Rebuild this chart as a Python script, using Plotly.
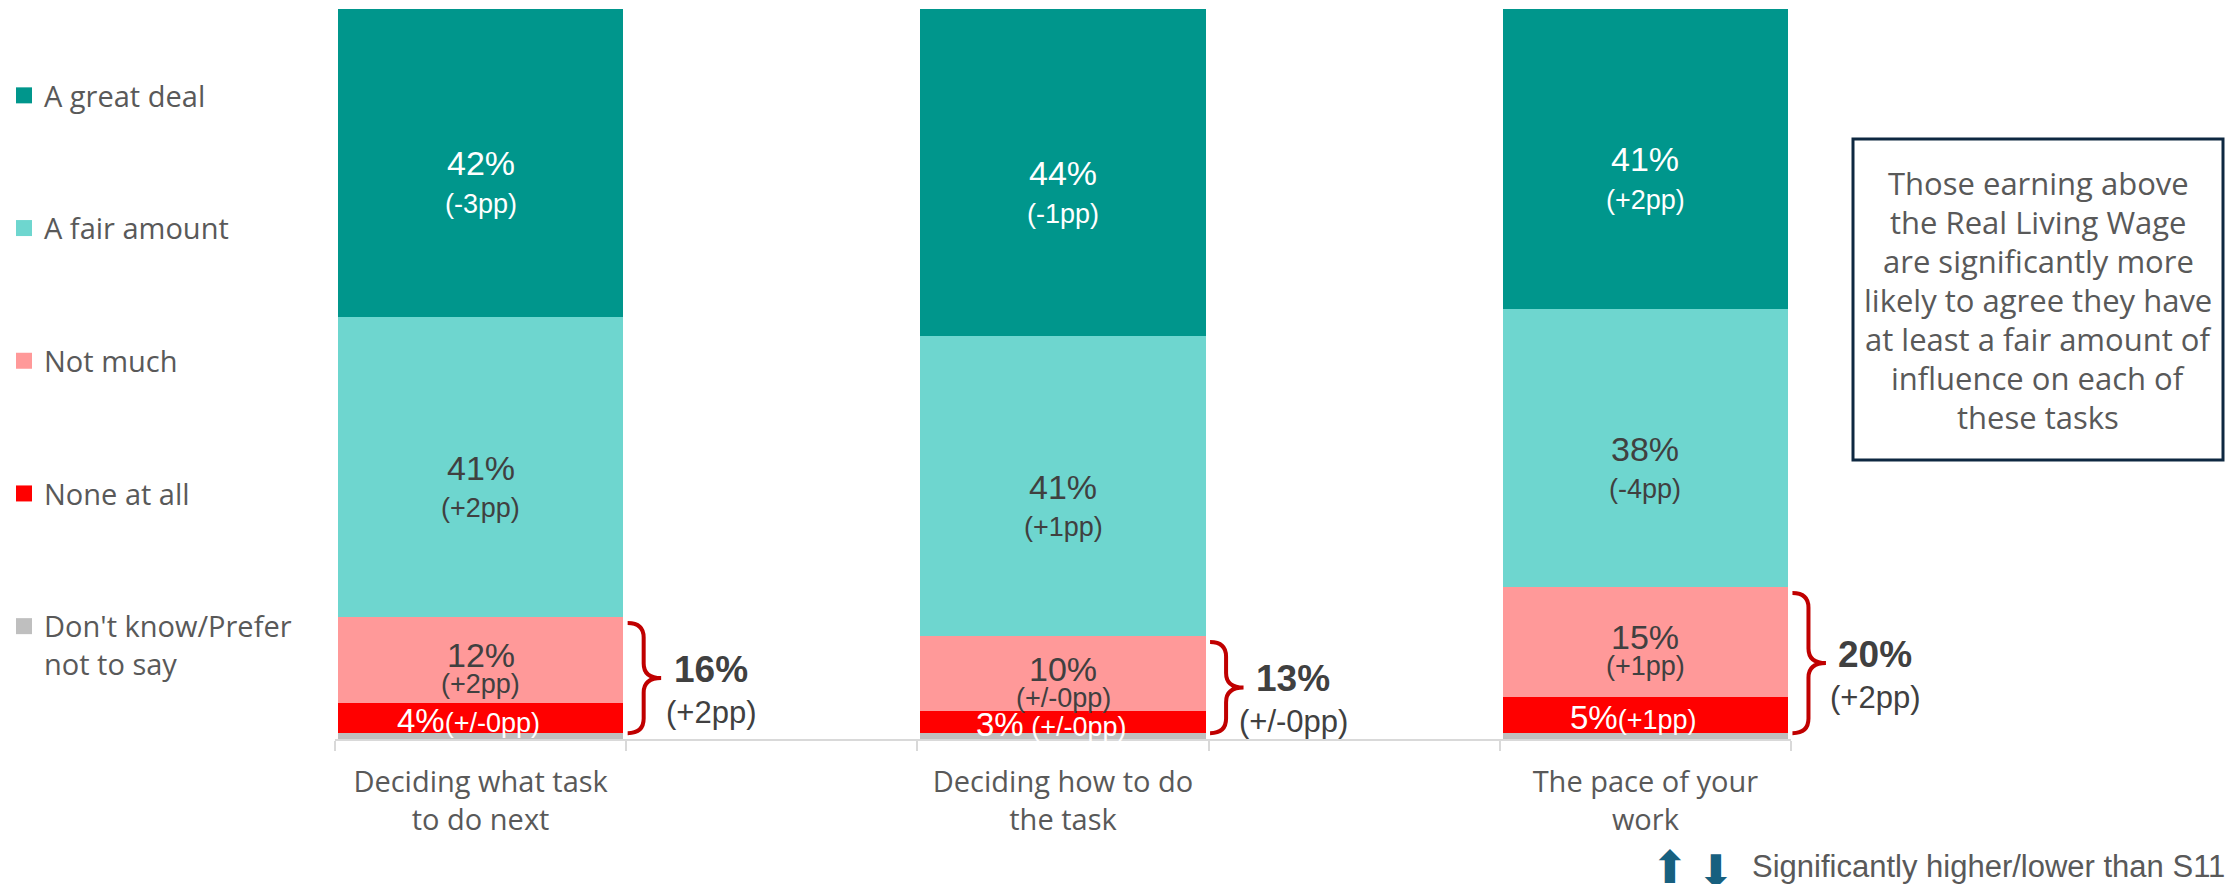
import plotly.graph_objects as go

# ---------------- data ----------------
categories = ["Deciding what task<br>to do next", "gap_a",
              "Deciding how to do<br>the task", "gap_b",
              "The pace of your<br>work"]
category_text = ["Deciding what task<br>to do next", "",
                 "Deciding how to do<br>the task", "",
                 "The pace of your<br>work"]
bar_categories = [categories[0], categories[2], categories[4]]

series_names = ["Don't know/Prefer<br>not to say", "None at all", "Not much",
                "A fair amount", "A great deal"]
dont_know = [0.8, 0.8, 0.8]
none_at_all = [4.1, 3.0, 4.9]
not_much = [11.8, 10.3, 15.1]
fair_amount = [41.1, 41.1, 38.1]
great_deal = [42.2, 44.8, 41.1]

none_lbl = ["4%", "3%", "5%"]
none_pp = ["(+/-0pp)", " (+/-0pp)", "(+1pp)"]
nm_lbl = ["12%", "10%", "15%"]
nm_pp = ["(+2pp)", "(+/-0pp)", "(+1pp)"]
fair_lbl = ["41%", "41%", "38%"]
fair_pp = ["(+2pp)", "(+1pp)", "(-4pp)"]
great_lbl = ["42%", "44%", "41%"]
great_pp = ["(-3pp)", "(-1pp)", "(+2pp)"]
net_lbl = ["16%", "13%", "20%"]
net_pp = ["(+2pp)", "(+/-0pp)", "(+2pp)"]

box_lines = ["Those earning above", "the Real Living Wage",
             "are significantly more", "likely to agree they have",
             "at least a fair amount of", "influence on each of",
             "these tasks"]
footnote = "Significantly higher/lower than S11"

# ---------------- styles ----------------
colors = ["#BFBFBF", "#FF0000", "#FF9999", "#6ED6CF", "#00968C"]
W_PX, H_PX = 2230, 884
L, T, B = 335, 9, 145
X_RANGE = [-0.5, len(categories) - 0.5]
CAT_PX = 291.2
PW = CAT_PX * len(categories)
R = W_PX - L - PW
PH = H_PX - T - B
ARIAL = "Liberation Sans, Arial, sans-serif"
APTOS = "Open Sans, sans-serif"
DARK = "#404040"
GREY_TXT = "#595959"


def px_x(px):
    return (px - L) / PW


def px_y(py):
    return (H_PX - B - py) / PH


def cat2paper(c):
    return (c - X_RANGE[0]) / (X_RANGE[1] - X_RANGE[0])


fig = go.Figure()
series = [dont_know, none_at_all, not_much, fair_amount, great_deal]
n_series = len(series)
for k, (name, vals, col) in enumerate(zip(series_names, series, colors)):
    fig.add_trace(go.Bar(
        x=bar_categories, y=vals, name=name, legendgroup=name, showlegend=False,
        marker=dict(color=col, line=dict(width=0)),
        hoverinfo="skip",
    ))
    # legend entry (larger square swatch) tied to the bar series
    fig.add_trace(go.Scatter(
        x=[None], y=[None], mode="markers", name=name, legendgroup=name,
        legendrank=n_series - k,
        marker=dict(symbol="square", size=16, color=col, line=dict(width=0)),
        hoverinfo="skip",
    ))

annotations = []
shapes = []

bar_idx = [categories.index(c) for c in bar_categories]
for i, xi in enumerate(bar_idx):
    base = 0.0
    segs = []
    for vals in series:
        segs.append((base, base + vals[i]))
        base += vals[i]
    # great deal
    g0, g1 = segs[4]
    gm = (g0 + g1) / 2
    annotations.append(dict(x=xi, y=gm, xref="x", yref="y", text=great_lbl[i], showarrow=False,
                            yshift=0, font=dict(family=ARIAL, size=34, color="white")))
    annotations.append(dict(x=xi, y=gm, xref="x", yref="y", text=great_pp[i], showarrow=False,
                            yshift=-41, font=dict(family=ARIAL, size=27, color="white")))
    # fair amount
    f0, f1 = segs[3]
    fm = (f0 + f1) / 2
    annotations.append(dict(x=xi, y=fm, xref="x", yref="y", text=fair_lbl[i], showarrow=False,
                            yshift=-1, font=dict(family=ARIAL, size=34, color=DARK)))
    annotations.append(dict(x=xi, y=fm, xref="x", yref="y", text=fair_pp[i], showarrow=False,
                            yshift=-41, font=dict(family=ARIAL, size=27, color=DARK)))
    # not much
    n0, n1 = segs[2]
    nm = (n0 + n1) / 2
    annotations.append(dict(x=xi, y=nm, xref="x", yref="y", text=nm_lbl[i], showarrow=False,
                            yshift=5, font=dict(family=ARIAL, size=34, color=DARK)))
    annotations.append(dict(x=xi, y=nm, xref="x", yref="y", text=nm_pp[i], showarrow=False,
                            yshift=-24, font=dict(family=ARIAL, size=27, color=DARK)))
    # none at all
    z0, z1 = segs[1]
    zm = (z0 + z1) / 2
    annotations.append(dict(x=xi, y=zm, xref="x", yref="y",
                            text=none_lbl[i] + "<span style='font-size:27px'>" + none_pp[i] + "</span>",
                            showarrow=False, xshift=-12, yshift=-2,
                            font=dict(family=ARIAL, size=33, color="white")))
    # brace around not much + none at all (x in paper units derived from the category scale)
    yb = segs[1][0]
    yt = segs[2][1] - 0.8
    ymid = (yb + yt) / 2
    x0 = cat2paper(xi + 0.505)
    xm = cat2paper(xi + 0.56)
    x1 = cat2paper(xi + 0.62)
    r = 2.0
    path = (f"M {x0},{yt} Q {xm},{yt} {xm},{yt - r} L {xm},{ymid + r} "
            f"Q {xm},{ymid} {x1},{ymid} Q {xm},{ymid} {xm},{ymid - r} "
            f"L {xm},{yb + r} Q {xm},{yb} {x0},{yb}")
    shapes.append(dict(type="path", path=path, xref="paper", yref="y",
                       line=dict(color="#C00000", width=4)))
    # net labels (x in paper units so the last one may sit right of the axis)
    xn = cat2paper(xi + 0.79)
    annotations.append(dict(x=xn, y=ymid, xref="paper", yref="y", text="<b>" + net_lbl[i] + "</b>",
                            showarrow=False, yshift=9, xanchor="center",
                            font=dict(family=ARIAL, size=37, color=DARK)))
    annotations.append(dict(x=xn, y=ymid, xref="paper", yref="y", text=net_pp[i],
                            showarrow=False, yshift=-34, xanchor="center",
                            font=dict(family=ARIAL, size=31, color=DARK)))

# text box
shapes.append(dict(type="rect", xref="paper", yref="paper",
                   x0=px_x(1853), x1=px_x(2223), y0=px_y(460), y1=px_y(139),
                   line=dict(color="#0E2841", width=3), fillcolor="white", layer="below"))
for j, line in enumerate(box_lines):
    annotations.append(dict(x=px_x(2038), y=px_y(183 + 39 * j), xref="paper", yref="paper",
                            text=line, showarrow=False, xanchor="center", yanchor="middle",
                            font=dict(family=APTOS, size=31, color=GREY_TXT)))

# footnote
annotations.append(dict(x=px_x(1670), y=px_y(896), xref="paper", yref="paper", text="⬆",
                        showarrow=False, xanchor="center",
                        font=dict(family="DejaVu Sans", size=45, color="#17607F")))
annotations.append(dict(x=px_x(1716), y=px_y(900), xref="paper", yref="paper", text="⬇",
                        showarrow=False, xanchor="center",
                        font=dict(family="DejaVu Sans", size=45, color="#17607F")))
annotations.append(dict(x=px_x(1750), y=px_y(866), xref="paper", yref="paper", text=footnote,
                        showarrow=False, xanchor="left", yanchor="middle",
                        font=dict(family=ARIAL, size=31, color=GREY_TXT)))

fig.update_layout(
    width=W_PX, height=H_PX,
    margin=dict(l=L, r=R, t=T, b=B, autoexpand=False),
    paper_bgcolor="white", plot_bgcolor="white",
    barmode="stack", bargap=0.02,
    showlegend=True,
    legend=dict(xref="container", yref="container", x=4 / W_PX, y=1 - 70 / H_PX,
                xanchor="left", yanchor="top", traceorder="grouped",
                tracegroupgap=92, valign="top", maxheight=860,
                font=dict(family=APTOS, size=29, color=GREY_TXT),
                bgcolor="rgba(0,0,0,0)"),
    xaxis=dict(type="category", categoryorder="array", categoryarray=categories,
               tickmode="array", tickvals=categories, ticktext=category_text,
               range=X_RANGE, tickson="boundaries", ticks="outside", ticklen=10,
               tickwidth=2, tickcolor="#D9D9D9", showline=True, linecolor="#D9D9D9",
               linewidth=2, showgrid=False, zeroline=False, ticklabelstandoff=16,
               tickfont=dict(family=APTOS, size=29, color=GREY_TXT)),
    yaxis=dict(range=[0, 100], visible=False, showgrid=False, zeroline=False),
    annotations=annotations,
    shapes=shapes,
)

fig.write_html("out.html", config={"displayModeBar": False},
               post_script="document.body.style.margin='0';")
